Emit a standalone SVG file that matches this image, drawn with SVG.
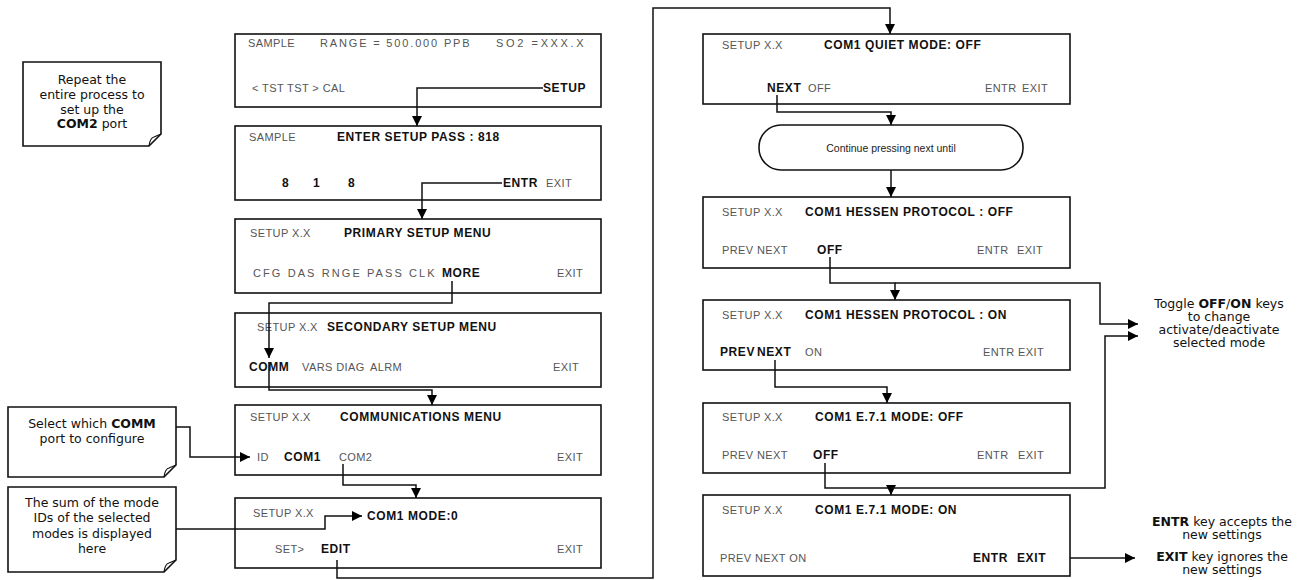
<svg xmlns="http://www.w3.org/2000/svg" width="1300" height="580" viewBox="0 0 1300 580">
<defs>
<marker id="ah" viewBox="0 0 10 10" refX="10" refY="5" markerWidth="10" markerHeight="10" markerUnits="userSpaceOnUse" orient="auto"><path d="M0,0 L10,5 L0,10 z" fill="#000"/></marker>
<style>
.box{fill:#fff;stroke:#111;stroke-width:1.6}
.g{font-family:"Liberation Sans",Arial,sans-serif;font-size:11px;fill:#555;letter-spacing:0.4px}
.b{font-family:"Liberation Sans",Arial,sans-serif;font-size:12px;font-weight:bold;fill:#111;letter-spacing:0.6px}
.n{font-family:"DejaVu Sans",sans-serif;font-size:12.5px;fill:#111;text-anchor:middle}
.nb{font-weight:bold}
.c{fill:none;stroke:#111;stroke-width:1.2}
.ca{fill:none;stroke:#111;stroke-width:1.5;marker-end:url(#ah)}
.o{font-family:"Liberation Sans",Arial,sans-serif;font-size:10.5px;fill:#222;text-anchor:middle}
</style>
</defs>
<rect width="1300" height="580" fill="#fff"/>

<g id="note-repeat">
<path class="box" d="M23,62 H161 V134 L149,146 H23 Z"/>
<path class="c" d="M149,146 Q150,138 154,137 L161,134"/>
<text class="n" x="92" y="84">Repeat the</text>
<text class="n" x="92" y="99">entire process to</text>
<text class="n" x="92" y="114">set up the</text>
<text class="n" x="92" y="128"><tspan class="nb">COM2</tspan> port</text>
</g>

<g id="note-select">
<path class="box" d="M8,407 H176 V465 L164,477 H8 Z"/>
<path class="c" d="M164,477 Q165,469 169,468 L176,465"/>
<text class="n" x="92" y="428">Select which <tspan class="nb">COMM</tspan></text>
<text class="n" x="92" y="443">port to configure</text>
</g>

<g id="note-sum">
<path class="box" d="M8,487 H176 V560 L164,572 H8 Z"/>
<path class="c" d="M164,572 Q165,564 169,563 L176,560"/>
<text class="n" x="92" y="507">The sum of the mode</text>
<text class="n" x="92" y="522">IDs of the selected</text>
<text class="n" x="92" y="538">modes is displayed</text>
<text class="n" x="92" y="553">here</text>
</g>

<g id="s1">
<rect class="box" x="235" y="34" width="366" height="73"/>
<text class="g" x="248" y="47">SAMPLE</text>
<text class="g" x="320" y="47" textLength="150" lengthAdjust="spacing">RANGE = 500.000 PPB</text>
<text class="g" x="496" y="47" textLength="88" lengthAdjust="spacing">SO2 =XXX.X</text>
<text class="g" x="252" y="92">&lt; TST TST &gt; CAL</text>
<text class="b" x="543" y="92">SETUP</text>
</g>

<g id="s2">
<rect class="box" x="235" y="126" width="366" height="74"/>
<text class="g" x="249" y="141">SAMPLE</text>
<text class="b" x="337" y="141">ENTER SETUP PASS : 818</text>
<text class="b" x="282" y="187">8</text>
<text class="b" x="313" y="187">1</text>
<text class="b" x="348" y="187">8</text>
<text class="b" x="503" y="187">ENTR</text>
<text class="g" x="546" y="187">EXIT</text>
</g>

<g id="s3">
<rect class="box" x="235" y="219" width="366" height="74"/>
<text class="g" x="250" y="237">SETUP X.X</text>
<text class="b" x="344" y="237">PRIMARY SETUP MENU</text>
<text class="g" x="253" y="277" textLength="182" lengthAdjust="spacing">CFG DAS RNGE PASS CLK</text>
<text class="b" x="442" y="277">MORE</text>
<text class="g" x="557" y="277">EXIT</text>
</g>

<g id="s4">
<rect class="box" x="235" y="313" width="366" height="74"/>
<text class="g" x="257" y="331">SETUP X.X</text>
<text class="b" x="327" y="331">SECONDARY SETUP MENU</text>
<text class="b" x="249" y="371">COMM</text>
<text class="g" x="302" y="371">VARS DIAG</text>
<text class="g" x="370" y="371">ALRM</text>
<text class="g" x="553" y="371">EXIT</text>
</g>

<g id="s5">
<rect class="box" x="235" y="405" width="366" height="70"/>
<text class="g" x="250" y="421">SETUP X.X</text>
<text class="b" x="340" y="421">COMMUNICATIONS MENU</text>
<text class="g" x="257" y="461">ID</text>
<text class="b" x="284" y="461">COM1</text>
<text class="g" x="339" y="461">COM2</text>
<text class="g" x="557" y="461">EXIT</text>
</g>

<g id="s6">
<rect class="box" x="235" y="498" width="366" height="70"/>
<text class="g" x="253" y="517">SETUP X.X</text>
<text class="b" x="367" y="520">COM1 MODE:0</text>
<text class="g" x="275" y="553">SET&gt;</text>
<text class="b" x="321" y="553">EDIT</text>
<text class="g" x="557" y="553">EXIT</text>
</g>

<g id="r1">
<rect class="box" x="703" y="34" width="367" height="70"/>
<text class="g" x="722" y="49">SETUP X.X</text>
<text class="b" x="824" y="49">COM1 QUIET MODE: OFF</text>
<text class="b" x="767" y="92">NEXT</text>
<text class="g" x="808" y="92">OFF</text>
<text class="g" x="985" y="92">ENTR</text>
<text class="g" x="1022" y="92">EXIT</text>
</g>

<g id="continue">
<rect class="box" x="759" y="125" width="264" height="45" rx="22" ry="22"/>
<text class="o" x="891" y="152">Continue pressing next until</text>
</g>

<g id="r2">
<rect class="box" x="703" y="197" width="367" height="71"/>
<text class="g" x="722" y="216">SETUP X.X</text>
<text class="b" x="805" y="216">COM1 HESSEN PROTOCOL : OFF</text>
<text class="g" x="722" y="254">PREV NEXT</text>
<text class="b" x="817" y="254">OFF</text>
<text class="g" x="977" y="254">ENTR</text>
<text class="g" x="1017" y="254">EXIT</text>
</g>

<g id="r3">
<rect class="box" x="703" y="300" width="367" height="70"/>
<text class="g" x="722" y="319">SETUP X.X</text>
<text class="b" x="805" y="319">COM1 HESSEN PROTOCOL :  ON</text>
<text class="b" x="720" y="356">PREV</text>
<text class="b" x="757" y="356">NEXT</text>
<text class="g" x="805" y="356">ON</text>
<text class="g" x="983" y="356">ENTR</text>
<text class="g" x="1018" y="356">EXIT</text>
</g>

<g id="r4">
<rect class="box" x="703" y="403" width="367" height="70"/>
<text class="g" x="722" y="421">SETUP X.X</text>
<text class="b" x="815" y="421">COM1 E.7.1 MODE: OFF</text>
<text class="g" x="722" y="459">PREV NEXT</text>
<text class="b" x="813" y="459">OFF</text>
<text class="g" x="977" y="459">ENTR</text>
<text class="g" x="1018" y="459">EXIT</text>
</g>

<g id="r5">
<rect class="box" x="703" y="495" width="367" height="81"/>
<text class="g" x="722" y="514">SETUP X.X</text>
<text class="b" x="815" y="514">COM1 E.7.1 MODE: ON</text>
<text class="g" x="720" y="562">PREV NEXT ON</text>
<text class="b" x="973" y="562">ENTR</text>
<text class="b" x="1017" y="562">EXIT</text>
</g>

<g id="note-toggle">
<text class="n" x="1219" y="308">Toggle <tspan class="nb">OFF</tspan>/<tspan class="nb">ON</tspan> keys</text>
<text class="n" x="1219" y="321">to change</text>
<text class="n" x="1219" y="334">activate/deactivate</text>
<text class="n" x="1219" y="347">selected mode</text>
</g>

<g id="note-entr-exit">
<text class="n" x="1222" y="526"><tspan class="nb">ENTR</tspan> key accepts the</text>
<text class="n" x="1222" y="539">new settings</text>
<text class="n" x="1222" y="561"><tspan class="nb">EXIT</tspan> key ignores the</text>
<text class="n" x="1222" y="574">new settings</text>
</g>

<g id="connectors">
<path class="ca" d="M543,88 H417 V126"/>
<path class="ca" d="M502,183 H422 V219"/>
<path class="ca" d="M452,281 V303 H269 V358"/>
<path class="ca" d="M269,362 V390 H432 V405"/>
<path class="ca" d="M343,464 V485 H416 V498"/>
<path class="ca" d="M337,560 V578 H653 V8 H890 V34"/>
<path class="ca" d="M176,427 H190 V457 H250"/>
<path class="ca" d="M176,529 H325 V516 H362"/>
<path class="ca" d="M777,95 V112 H891 V125"/>
<path class="ca" d="M891,170 V197"/>
<path class="ca" d="M830,257 V283 H895 V300"/>
<path class="ca" d="M895,283 H1100 V324 H1138"/>
<path class="ca" d="M775,360 V387 H887 V403"/>
<path class="ca" d="M825,463 V488 H891 V495"/>
<path class="ca" d="M891,488 H1105 V336 H1138"/>
<path class="ca" d="M1070,558 H1135"/>
</g>
</svg>
